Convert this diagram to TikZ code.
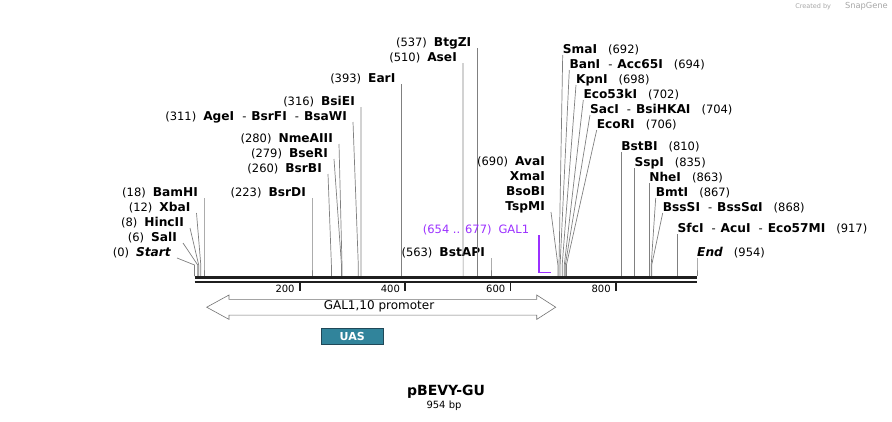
\documentclass[tikz,border=0pt]{standalone}
\usepackage{fontspec}
\setmainfont{DejaVu Sans}
\usetikzlibrary{calc}
\definecolor{lineagris}{RGB}{128,128,128}
\definecolor{galmorado}{RGB}{155,48,255}
\definecolor{uasazul}{RGB}{49,132,155}
\definecolor{uasborde}{RGB}{32,72,88}
\newcommand{\hueco}{\hspace{7pt}}
\newcommand{\huecod}{\hspace{11pt}}
\newcommand{\guion}{\hspace{8pt}-\hspace{5pt}}
\newcommand{\enz}[1]{{\fontsize{12.2}{13}\selectfont\bfseries #1}}
\tikzset{
  izq/.style={anchor=base east, font=\fontsize{11.5}{13}\selectfont, inner xsep=6pt, inner ysep=0pt},
  der/.style={anchor=base west, font=\fontsize{11.5}{13}\selectfont, inner xsep=0pt, inner ysep=0pt},
  corte/.style={draw=lineagris, line width=0.7pt},
  eje/.style={line width=2.4pt, black!88},
  marca/.style={line width=1.6pt, black!88},
  escala/.style={anchor=base east, font=\fontsize{10}{12}\selectfont, inner xsep=5pt, inner ysep=0pt},
  promotor/.style={draw=black!55, fill=white, line width=0.6pt},
  uas/.style={rectangle, draw=uasborde, fill=uasazul, text=white, font=\bfseries\fontsize{11}{12}\selectfont,
              minimum width=62pt, minimum height=16pt, inner sep=0pt},
  gal/.style={draw=galmorado, line width=1.5pt}
}
\begin{document}
\begin{tikzpicture}[x=1pt,y=-1pt]
\useasboundingbox (0,0) rectangle (892,421);

% sitios sobre el eje
\coordinate (p0) at (194.5,276);
\coordinate (p6) at (197.7,276);
\coordinate (p8) at (198.7,276);
\coordinate (p12) at (200.8,276);
\coordinate (p18) at (204.0,276);
\coordinate (p223) at (312.0,276);
\coordinate (p260) at (331.4,276);
\coordinate (p279) at (341.5,276);
\coordinate (p280) at (342.0,276);
\coordinate (p311) at (358.3,276);
\coordinate (p316) at (360.9,276);
\coordinate (p393) at (401.5,276);
\coordinate (p510) at (463.1,276);
\coordinate (p537) at (477.4,276);
\coordinate (p563) at (491.0,276);
\coordinate (p690) at (557.9,276);
\coordinate (p692) at (559.0,276);
\coordinate (p694) at (560.1,276);
\coordinate (p698) at (562.2,276);
\coordinate (p702) at (564.3,276);
\coordinate (p704) at (565.3,276);
\coordinate (p706) at (566.4,276);
\coordinate (p810) at (621.2,276);
\coordinate (p835) at (634.3,276);
\coordinate (p863) at (649.1,276);
\coordinate (p867) at (651.2,276);
\coordinate (p868) at (651.7,276);
\coordinate (p917) at (677.5,276);
\coordinate (p954) at (697.0,276);

% etiquetas a la izquierda
\node[izq] (start) at (177,256) {(0)\hueco\enz{\itshape Start}};
\node[izq] (sali) at (183,241) {(6)\hueco\enz{SalI}};
\node[izq] (hincii) at (190,226) {(8)\hueco\enz{HincII}};
\node[izq] (xbai) at (196.5,211) {(12)\hueco\enz{XbaI}};
\node[izq] (bamhi) at (204,196) {(18)\hueco\enz{BamHI}};
\node[izq] (bsrdi) at (312,196) {(223)\hueco\enz{BsrDI}};
\node[izq] (bsrbi) at (328,172) {(260)\hueco\enz{BsrBI}};
\node[izq] (bseri) at (334,157) {(279)\hueco\enz{BseRI}};
\node[izq] (nmeaiii) at (339,142) {(280)\hueco\enz{NmeAIII}};
\node[izq] (agei) at (353,120) {(311)\hueco\enz{AgeI}\guion\enz{BsrFI}\guion\enz{BsaWI}};
\node[izq] (bsiei) at (361,105) {(316)\hueco\enz{BsiEI}};
\node[izq] (eari) at (401.5,82) {(393)\hueco\enz{EarI}};
\node[izq] (asei) at (463,61) {(510)\hueco\enz{AseI}};
\node[izq] (btgzi) at (477.4,46) {(537)\hueco\enz{BtgZI}};
\node[izq] (bstapi) at (491,256) {(563)\hueco\enz{BstAPI}};
\node[izq] (avai) at (551,165) {(690)\hueco\enz{AvaI}};
\node[izq] (xmai) at (551,180) {\enz{XmaI}};
\node[izq] (bsobi) at (551,195) {\enz{BsoBI}};
\node[izq] (tspmi) at (551,210) {\enz{TspMI}};

% etiquetas a la derecha
\node[der] (smai) at (562.7,53) {\enz{SmaI}\huecod(692)};
\node[der] (bani) at (569.3,68) {\enz{BanI}\guion\enz{Acc65I}\huecod(694)};
\node[der] (kpni) at (576,83) {\enz{KpnI}\huecod(698)};
\node[der] (eco53ki) at (583.3,98) {\enz{Eco53kI}\huecod(702)};
\node[der] (saci) at (590,113) {\enz{SacI}\guion\enz{BsiHKAI}\huecod(704)};
\node[der] (ecori) at (596.7,128) {\enz{EcoRI}\huecod(706)};
\node[der] (bstbi) at (621.2,150) {\enz{BstBI}\huecod(810)};
\node[der] (sspi) at (634.3,166) {\enz{SspI}\huecod(835)};
\node[der] (nhei) at (649.1,181) {\enz{NheI}\huecod(863)};
\node[der] (bmti) at (655.7,196) {\enz{BmtI}\huecod(867)};
\node[der] (bsssi) at (662.7,211) {\enz{BssSI}\guion\enz{BssSαI}\huecod(868)};
\node[der] (sfci) at (677.5,232) {\enz{SfcI}\guion\enz{AcuI}\guion\enz{Eco57MI}\huecod(917)};
\node[der] (fin) at (697,256) {\enz{\itshape End}\huecod(954)};

% lineas de corte
\draw[corte] ([yshift=-2pt]start.base east) -- ([yshift=11pt]p0) -- (p0);
\draw[corte] ([yshift=-2pt]sali.base east) -- ([yshift=11pt]p6) -- (p6);
\draw[corte] ([yshift=-2pt]hincii.base east) -- ([yshift=11pt]p8) -- (p8);
\draw[corte] ([yshift=-2pt]xbai.base east) -- ([yshift=11pt]p12) -- (p12);
\draw[corte] ([yshift=-2pt]bamhi.base east) -- ([yshift=11pt]p18) -- (p18);
\draw[corte] ([yshift=-2pt]bsrdi.base east) -- ([yshift=11pt]p223) -- (p223);
\draw[corte] ([yshift=-2pt]bsrbi.base east) -- ([yshift=11pt]p260) -- (p260);
\draw[corte] ([yshift=-2pt]bseri.base east) -- ([yshift=11pt]p279) -- (p279);
\draw[corte] ([yshift=-2pt]nmeaiii.base east) -- ([yshift=11pt]p280) -- (p280);
\draw[corte] ([yshift=-2pt]agei.base east) -- ([yshift=11pt]p311) -- (p311);
\draw[corte] ([yshift=-2pt]bsiei.base east) -- ([yshift=11pt]p316) -- (p316);
\draw[corte] ([yshift=-2pt]eari.base east) -- ([yshift=11pt]p393) -- (p393);
\draw[corte] ([yshift=-2pt]asei.base east) -- ([yshift=11pt]p510) -- (p510);
\draw[corte] ([yshift=-2pt]btgzi.base east) -- ([yshift=11pt]p537) -- (p537);
\draw[corte] ([yshift=-2pt]bstapi.base east) -- ([yshift=11pt]p563) -- (p563);
\draw[corte] ([yshift=-2pt]tspmi.base east) -- ([yshift=11pt]p690) -- (p690);
\draw[corte] ([yshift=-2pt]smai.base west) -- ([yshift=11pt]p692) -- (p692);
\draw[corte] ([yshift=-2pt]bani.base west) -- ([yshift=11pt]p694) -- (p694);
\draw[corte] ([yshift=-2pt]kpni.base west) -- ([yshift=11pt]p698) -- (p698);
\draw[corte] ([yshift=-2pt]eco53ki.base west) -- ([yshift=11pt]p702) -- (p702);
\draw[corte] ([yshift=-2pt]saci.base west) -- ([yshift=11pt]p704) -- (p704);
\draw[corte] ([yshift=-2pt]ecori.base west) -- ([yshift=11pt]p706) -- (p706);
\draw[corte] ([yshift=-2pt]bstbi.base west) -- ([yshift=11pt]p810) -- (p810);
\draw[corte] ([yshift=-2pt]sspi.base west) -- ([yshift=11pt]p835) -- (p835);
\draw[corte] ([yshift=-2pt]nhei.base west) -- ([yshift=11pt]p863) -- (p863);
\draw[corte] ([yshift=-2pt]bmti.base west) -- ([yshift=11pt]p867) -- (p867);
\draw[corte] ([yshift=-2pt]bsssi.base west) -- ([yshift=11pt]p868) -- (p868);
\draw[corte] ([yshift=-2pt]sfci.base west) -- ([yshift=11pt]p917) -- (p917);
\draw[corte] ([yshift=-2pt]fin.base west) -- ([yshift=11pt]p954) -- (p954);

% GAL1
\node[izq, text=galmorado] (gal1) at (535.3,233) {(654 .. 677)\hueco GAL1};
\coordinate (g654) at (539,235);
\coordinate (g677) at (551,272.6);
\draw[gal] (g654) |- (g677);

% eje
\draw[eje] (194.5,277.3) -- (697,277.3);
\draw[eje] (194.5,281.8) -- (697,281.8);
\draw[marca] (299.8,283) -- (299.8,290.5);
\draw[marca] (405.1,283) -- (405.1,290.5);
\draw[marca] (510.5,283) -- (510.5,290.5);
\draw[marca] (615.9,283) -- (615.9,290.5);
\node[escala] (t200) at (299.8,292) {200};
\node[escala] (t400) at (405.1,292) {400};
\node[escala] (t600) at (510.5,292) {600};
\node[escala] (t800) at (615.9,292) {800};

% promotor y UAS
\draw[promotor] (206.7,307.2) -- (229,295) -- (229,299.3) -- (536.7,299.3) -- (536.7,295)
      -- (555.7,307.2) -- (536.7,319.4) -- (536.7,315.1) -- (229,315.1) -- (229,319.4) -- cycle;
\node[anchor=base, font=\fontsize{12}{14}\selectfont, inner sep=0pt] (prom) at (379,309.5) {GAL1,10 promoter};
\node[uas] (uas) at (352.2,336.2) {UAS};

% titulo
\node[anchor=base, font=\bfseries\fontsize{14}{16}\selectfont, inner sep=0pt] (titulo) at (446,395) {pBEVY-GU};
\node[anchor=base, font=\fontsize{10}{12}\selectfont, inner sep=0pt] (pares) at (444,408) {954 bp};
\node[anchor=east, inner sep=0pt, text=black!35] (snapgene) at (888,6)
      {{\fontsize{6.5}{7}\selectfont Created by}\hspace{14pt}{\fontsize{8.3}{9}\selectfont SnapGene}};
\end{tikzpicture}
\end{document}
